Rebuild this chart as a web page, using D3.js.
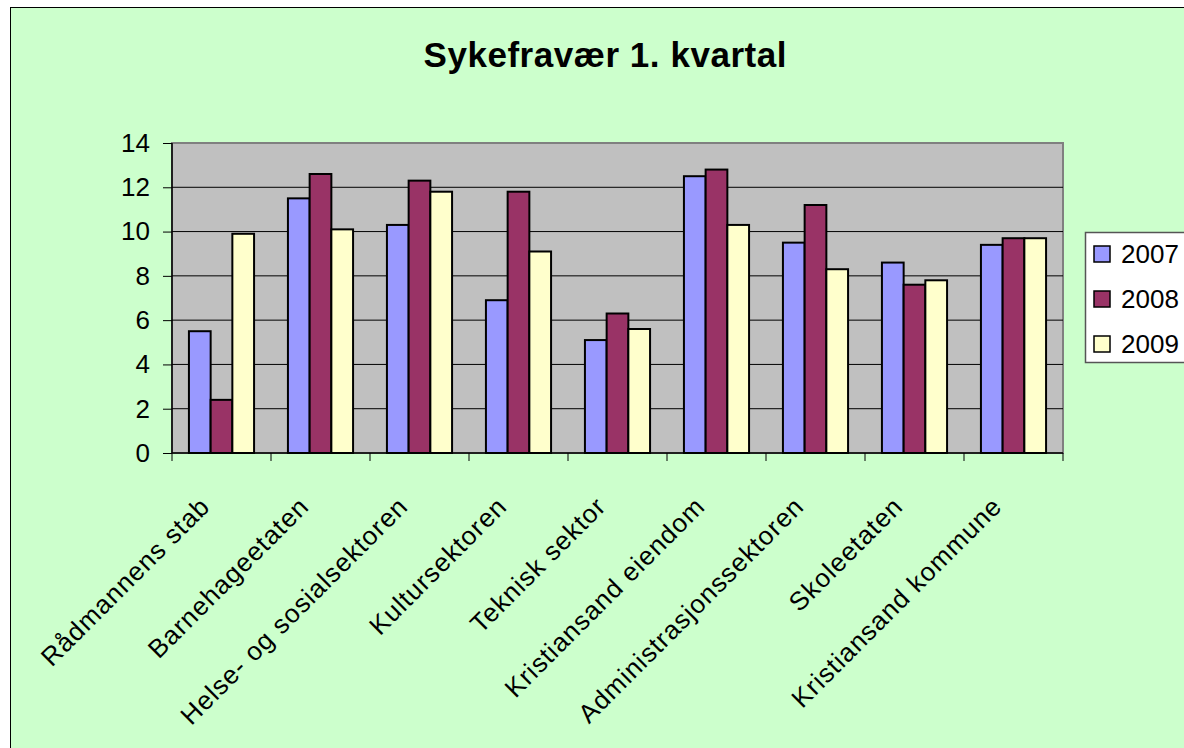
<!DOCTYPE html>
<html>
<head>
<meta charset="utf-8">
<script src="https://cdn.jsdelivr.net/npm/d3@7"></script>
<style>
  body { margin: 0; background: #fff; }
  svg { display: block; font-family: "Liberation Sans", Arial, sans-serif; }
</style>
</head>
<body>
<svg id="chart" width="1184" height="748"></svg>
<script>
// data
const categories = ["Rådmannens stab", "Barnehageetaten", "Helse- og sosialsektoren", "Kultursektoren",
  "Teknisk sektor", "Kristiansand eiendom", "Administrasjonssektoren", "Skoleetaten", "Kristiansand kommune"];
const years = ["2007", "2008", "2009"];
const v2007 = [5.5, 11.5, 10.3, 6.9, 5.1, 12.5, 9.5, 8.6, 9.4];
const v2008 = [2.4, 12.6, 12.3, 11.8, 6.3, 12.8, 11.2, 7.6, 9.7];
const v2009 = [9.9, 10.1, 11.8, 9.1, 5.6, 10.3, 8.3, 7.8, 9.7];
const yTicks = [0, 2, 4, 6, 8, 10, 12, 14];
const colors = ["#9999FF", "#993366", "#FFFFCC"];

const series = [v2007, v2008, v2009];
const svg = d3.select("#chart");

// chart area
svg.append("rect")
  .attr("x", 10.5).attr("y", 7.5)
  .attr("width", 1190).attr("height", 760)
  .attr("fill", "#CCFFCC").attr("stroke", "#000").attr("stroke-width", 1);

const plot = { left: 172, right: 1063, top: 143, bottom: 453 };

const x0 = d3.scaleBand().domain(categories).range([plot.left, plot.right]);
const x1 = d3.scaleBand().domain(years).range([0, x0.bandwidth()]).paddingOuter(0.78);
const y = d3.scaleLinear().domain([0, 14]).range([plot.bottom, plot.top]);

// plot area
svg.append("rect")
  .attr("x", plot.left).attr("y", plot.top)
  .attr("width", plot.right - plot.left).attr("height", plot.bottom - plot.top)
  .attr("fill", "#C0C0C0").attr("stroke", "#808080").attr("stroke-width", 2);

// gridlines
svg.append("g")
  .selectAll("line")
  .data(yTicks.filter(t => t > 0 && t < 14))
  .enter().append("line")
  .attr("x1", plot.left).attr("x2", plot.right)
  .attr("y1", d => y(d)).attr("y2", d => y(d))
  .attr("stroke", "#000").attr("stroke-width", 1);

// bars
const groups = svg.append("g")
  .selectAll("g")
  .data(categories)
  .enter().append("g")
  .attr("transform", d => "translate(" + x0(d) + ",0)");

groups.selectAll("rect")
  .data((c, i) => years.map((yr, j) => ({ yr: yr, value: series[j][i], color: colors[j] })))
  .enter().append("rect")
  .attr("x", d => x1(d.yr))
  .attr("y", d => y(d.value))
  .attr("width", x1.bandwidth())
  .attr("height", d => y(0) - y(d.value))
  .attr("fill", d => d.color)
  .attr("stroke", "#000").attr("stroke-width", 2);

// y axis
const yAxis = svg.append("g")
  .attr("transform", "translate(" + plot.left + ",0)")
  .call(d3.axisLeft(y).tickValues(yTicks).tickSize(9).tickPadding(13).tickFormat(d3.format("d")));
yAxis.select(".domain").attr("stroke", "#000").attr("stroke-width", 1.5).attr("d", "M0," + plot.top + "V" + plot.bottom);
yAxis.selectAll(".tick line").attr("stroke", "#000");
yAxis.selectAll("text").attr("font-size", 26).attr("fill", "#000")
  .attr("font-family", "Liberation Sans, Arial, sans-serif");

// x axis line with boundary ticks
svg.append("line")
  .attr("x1", plot.left).attr("x2", plot.right)
  .attr("y1", plot.bottom).attr("y2", plot.bottom)
  .attr("stroke", "#000").attr("stroke-width", 1.5);
const bounds = categories.map(c => x0(c)).concat([plot.right]);
svg.append("g").selectAll("line")
  .data(bounds)
  .enter().append("line")
  .attr("x1", d => d).attr("x2", d => d)
  .attr("y1", plot.bottom).attr("y2", plot.bottom + 8)
  .attr("stroke", "#000").attr("stroke-width", 1);

// category labels, rotated
svg.append("g").selectAll("text")
  .data(categories)
  .enter().append("text")
  .attr("transform", d => "translate(" + (x0(d) + x0.bandwidth() / 2 - 10) + "," + (plot.bottom + 55) + ") rotate(-45)")
  .attr("text-anchor", "end")
  .attr("font-size", 26)
  .attr("letter-spacing", 1)
  .attr("fill", "#000")
  .text(d => d);

// title
svg.append("text")
  .attr("x", 605).attr("y", 67)
  .attr("text-anchor", "middle")
  .attr("font-size", 35)
  .attr("font-weight", "bold")
  .attr("textLength", 363)
  .attr("lengthAdjust", "spacing")
  .text("Sykefravær 1. kvartal");

// legend
const legend = svg.append("g").attr("transform", "translate(1085,232)");
legend.append("rect")
  .attr("x", 0.5).attr("y", 0.5).attr("width", 120).attr("height", 130)
  .attr("fill", "#fff").attr("stroke", "#555").attr("stroke-width", 1.5);
const item = legend.selectAll("g.item")
  .data(years)
  .enter().append("g")
  .attr("class", "item")
  .attr("transform", (d, i) => "translate(0," + (22 + i * 45) + ")");
item.append("rect")
  .attr("x", 9).attr("y", -8).attr("width", 16).attr("height", 16)
  .attr("fill", (d, i) => colors[i]).attr("stroke", "#000").attr("stroke-width", 1.5);
item.append("text")
  .attr("x", 36).attr("y", 9)
  .attr("font-size", 26)
  .attr("fill", "#000")
  .text(d => d);
</script>
</body>
</html>
